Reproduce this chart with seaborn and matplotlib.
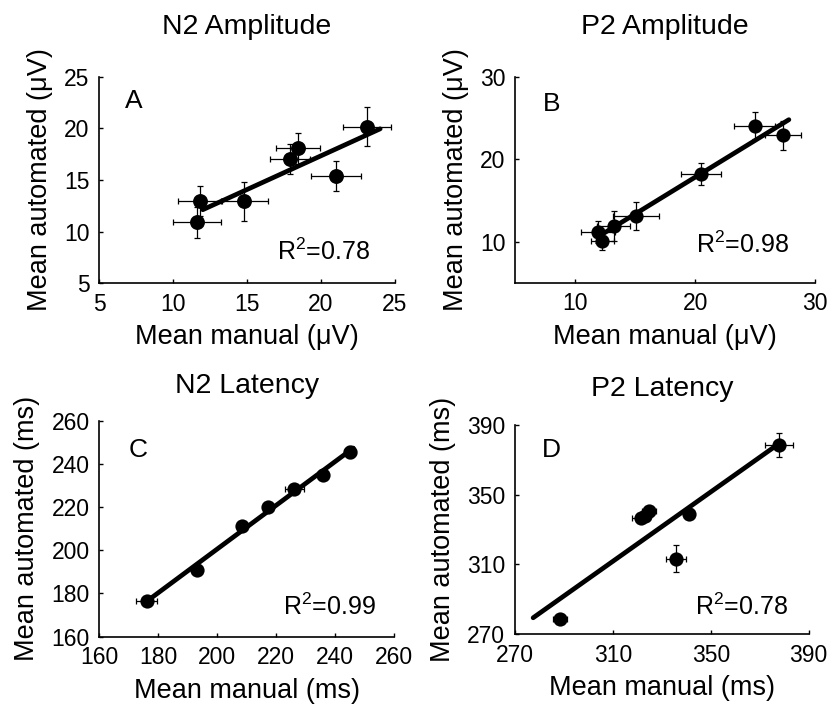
import matplotlib
matplotlib.use('Agg')
import seaborn as sns
import matplotlib.pyplot as plt
import numpy as np

# N2 amplitude (uV)
n2amp_manual = [11.8, 11.6, 14.8, 17.9, 18.45, 21.0, 23.1]
n2amp_auto = [13.0, 10.9, 12.95, 17.0, 18.05, 15.4, 20.15]
n2amp_manual_err = [1.5, 1.6, 1.6, 1.35, 1.5, 1.7, 1.6]
n2amp_auto_err = [1.45, 1.5, 1.9, 1.45, 1.5, 1.45, 1.9]

# P2 amplitude (uV)
p2amp_manual = [11.9, 12.25, 13.2, 15.05, 20.5, 24.95, 27.3]
p2amp_auto = [11.15, 10.1, 11.9, 13.15, 18.2, 24.1, 22.9]
p2amp_manual_err = [1.4, 0.95, 1.4, 1.9, 1.65, 1.7, 1.5]
p2amp_auto_err = [1.3, 1.15, 1.8, 1.7, 1.3, 1.65, 1.75]

# N2 latency (ms)
n2lat_manual = [176.1, 193.0, 208.5, 217.1, 226.1, 235.9, 245.0]
n2lat_auto = [176.4, 190.7, 211.4, 220.1, 228.4, 235.0, 245.6]
n2lat_manual_err = [3.6, 1.0, 1.0, 1.0, 3.3, 1.0, 2.1]
n2lat_auto_err = [1.0, 1.0, 1.0, 1.0, 2.0, 1.0, 2.9]

# P2 latency (ms)
p2lat_manual = [288.4, 321.3, 323.3, 324.8, 335.6, 341.2, 377.8]
p2lat_auto = [278.6, 336.7, 337.6, 340.5, 313.3, 339.0, 378.6]
p2lat_manual_err = [2.7, 3.5, 2.0, 3.0, 4.1, 2.0, 5.7]
p2lat_auto_err = [1.5, 2.0, 2.0, 2.0, 7.6, 2.0, 7.0]

# x-range the regression line is drawn over
fit_range = {"A": [12.0, 24.0], "B": [12.0, 27.8], "C": [177.2, 246.1], "D": [277.4, 378.1]}

titles = ["N2 Amplitude", "P2 Amplitude", "N2 Latency", "P2 Latency"]
letters = ["A", "B", "C", "D"]
r2_text = ["R$^2$=0.78", "R$^2$=0.98", "R$^2$=0.99", "R$^2$=0.78"]
xlabels = ["Mean manual (\u03bcV)", "Mean manual (\u03bcV)", "Mean manual (ms)", "Mean manual (ms)"]
ylabels = ["Mean automated (\u03bcV)", "Mean automated (\u03bcV)", "Mean automated (ms)", "Mean automated (ms)"]
xlims = [(5, 25), (5, 30), (160, 260), (270, 390)]
ylims = [(5, 25), (5, 30), (160, 260), (270, 390)]
xticks = [[5, 10, 15, 20, 25], [10, 20, 30], [160, 180, 200, 220, 240, 260], [270, 310, 350, 390]]
yticks = [[5, 10, 15, 20, 25], [10, 20, 30], [160, 180, 200, 220, 240, 260], [270, 310, 350, 390]]

sns.set_style("ticks")
plt.rcParams['font.family'] = ['Liberation Sans', 'DejaVu Sans']
plt.rcParams['mathtext.fontset'] = 'custom'
plt.rcParams['mathtext.rm'] = 'Liberation Sans'
plt.rcParams['mathtext.it'] = 'Liberation Sans:italic'
plt.rcParams['mathtext.default'] = 'regular'
plt.rcParams['text.color'] = 'black'
plt.rcParams['axes.labelcolor'] = 'black'
plt.rcParams['axes.titlecolor'] = 'black'

fig = plt.figure(figsize=(8.35, 7.12), dpi=100)
boxes = [
    [0.1189, 0.6021, 0.3541, 0.2903],
    [0.6168, 0.6029, 0.3596, 0.2890],
    [0.1189, 0.1060, 0.3533, 0.3027],
    [0.6168, 0.1095, 0.3517, 0.2935],
]
panels = [
    (n2amp_manual, n2amp_auto, n2amp_manual_err, n2amp_auto_err),
    (p2amp_manual, p2amp_auto, p2amp_manual_err, p2amp_auto_err),
    (n2lat_manual, n2lat_auto, n2lat_manual_err, n2lat_auto_err),
    (p2lat_manual, p2lat_auto, p2lat_manual_err, p2lat_auto_err),
]
r2_pos = [(0.60, 0.113), (0.603, 0.146), (0.624, 0.10), (0.613, 0.091)]
letter_pos = [(0.087, 0.847), (0.094, 0.836), (0.098, 0.834), (0.093, 0.848)]
title_pad = [31, 31, 20, 21]
dot_size = [115, 105, 105, 105]

for i in range(4):
    ax = fig.add_axes(boxes[i])
    x, y, xe, ye = panels[i]
    ax.errorbar(x, y, xerr=xe, yerr=ye, fmt='none', ecolor='black',
                elinewidth=0.9, capsize=2.2, capthick=0.9, zorder=2)
    sns.scatterplot(x=x, y=y, ax=ax, color='black', s=dot_size[i],
                    edgecolor='black', linewidth=0, zorder=3)
    # least squares fit
    slope, icpt = np.polyfit(x, y, 1)
    fx = np.array(fit_range[letters[i]])
    sns.lineplot(x=fx, y=slope * fx + icpt, ax=ax, color='black', lw=3.4, zorder=4)

    ax.set_xlim(xlims[i])
    ax.set_ylim(ylims[i])
    ax.set_xticks(xticks[i])
    ax.set_yticks(yticks[i])
    ax.tick_params(direction='in', length=3, width=1, labelsize=16.5, pad=7, colors='black')
    sns.despine(ax=ax)
    for s in ['left', 'bottom']:
        ax.spines[s].set_linewidth(1.2)
        ax.spines[s].set_color('black')
    ax.set_xlabel(xlabels[i], fontsize=19.5, labelpad=6)
    ax.set_ylabel(ylabels[i], fontsize=19.5, labelpad=8)
    ax.set_title(titles[i], fontsize=20.5, pad=title_pad[i])
    ax.text(letter_pos[i][0], letter_pos[i][1], letters[i], transform=ax.transAxes,
            fontsize=19, ha='left', va='baseline')
    ax.text(r2_pos[i][0], r2_pos[i][1], r2_text[i], transform=ax.transAxes,
            fontsize=18, ha='left', va='baseline')

plt.savefig("out.png", dpi=100)
